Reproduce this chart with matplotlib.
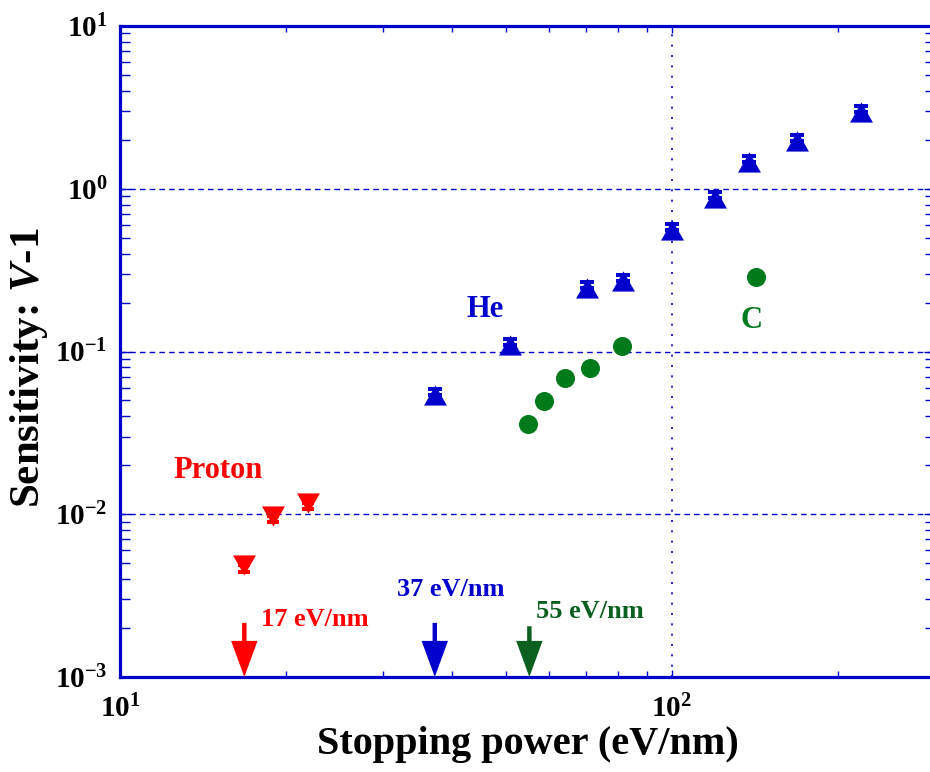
import numpy as np
import matplotlib
matplotlib.use('Agg')
import matplotlib.pyplot as plt
from matplotlib.path import Path
from matplotlib.ticker import LogLocator, NullFormatter

plt.rcParams['font.family'] = 'Liberation Serif'
plt.rcParams['font.weight'] = 'bold'
plt.rcParams['axes.labelweight'] = 'bold'
plt.rcParams['mathtext.fontset'] = 'custom'
plt.rcParams['mathtext.default'] = 'regular'
plt.rcParams['mathtext.it'] = 'Liberation Serif:italic:bold'
plt.rcParams['mathtext.rm'] = 'Liberation Serif:bold'
plt.rcParams['axes.unicode_minus'] = False

# ---------------- data ----------------
proton_x = [16.8, 18.9, 21.9]
proton_y = [0.00488, 0.0098, 0.0118]
proton_err = [0.00044, 0.0009, 0.0011]

he_x = [37.2, 51.0, 70.1, 81.7, 100.0, 120.0, 138.0, 169.0, 220.0]
he_y = [0.054, 0.109, 0.245, 0.27, 0.555, 0.875, 1.45, 1.97, 2.98]
he_err = [0.0048, 0.0097, 0.022, 0.024, 0.05, 0.078, 0.13, 0.175, 0.265]

c_x = [54.8, 58.7, 64.0, 71.0, 81.3, 141.9]
c_y = [0.0358, 0.0494, 0.069, 0.0793, 0.1086, 0.286]

arrow_x = [16.8, 37.2, 55.2]
arrow_top = [0.00215, 0.00215, 0.00205]
arrow_lab = ['17 eV/nm', '37 eV/nm', '55 eV/nm']

BLUE = '#0000cc'
RED = '#ff0000'
GREEN = '#007a1a'
DKGREEN = '#0b6020'

# wide triangle markers
tri_up = Path([(-1, -0.88), (1, -0.88), (0, 0.88), (-1, -0.88)],
              [Path.MOVETO, Path.LINETO, Path.LINETO, Path.CLOSEPOLY])
tri_dn = Path([(-1, 0.88), (1, 0.88), (0, -0.88), (-1, 0.88)],
              [Path.MOVETO, Path.LINETO, Path.LINETO, Path.CLOSEPOLY])

fig = plt.figure(figsize=(9.3, 7.72), dpi=100)
ax = fig.add_axes([120 / 930, 1 - 677 / 772, 815 / 930, 651 / 772])
ax.set_xscale('log')
ax.set_yscale('log')
ax.set_xlim(10, 300)
ax.set_ylim(1e-3, 10)

# grid
ax.yaxis.grid(True, which='major', color=BLUE, linestyle=(0, (4, 3)), linewidth=1.0)
ax.xaxis.grid(True, which='major', color=BLUE, linestyle=(0, (1.2, 5)), linewidth=1.2)

# data (caps drawn over the marker tips)
ax.plot(he_x, he_y, linestyle='none', marker=tri_up, markersize=16.5,
        color=BLUE, markeredgewidth=0, zorder=4)
ax.errorbar(he_x, he_y, yerr=[np.zeros(len(he_y)), he_err], fmt='none',
            ecolor=BLUE, elinewidth=2, capsize=4.7, capthick=2.9, zorder=5)

ax.plot(proton_x, proton_y, linestyle='none', marker=tri_dn, markersize=16.5,
        color=RED, markeredgewidth=0, zorder=4)
ax.errorbar(proton_x, proton_y, yerr=[proton_err, np.zeros(len(proton_y))], fmt='none',
            ecolor=RED, elinewidth=2, capsize=4.5, capthick=2.9, zorder=5)

ax.plot(c_x, c_y, linestyle='none', marker='o', markersize=13.7,
        color=GREEN, markeredgewidth=0, zorder=4)

# arrows marking thresholds
arrow_cols = [RED, BLUE, DKGREEN]
for xv, yt, col in zip(arrow_x, arrow_top, arrow_cols):
    ax.annotate('', xy=(xv, 1e-3), xytext=(xv, yt),
                arrowprops=dict(arrowstyle='simple,head_length=2.6,head_width=1.9,tail_width=0.32',
                                mutation_scale=10, lw=0, color=col,
                                shrinkA=0, shrinkB=0), annotation_clip=False)

# labels
ax.text(12.5, 0.0185, 'Proton', color=RED, fontsize=22, ha='left', va='center')
ax.text(42.4, 0.180, 'He', color=BLUE, fontsize=22, ha='left', va='center')
ax.text(133, 0.156, 'C', color=GREEN, fontsize=22, ha='left', va='center')
ax.text(18.0, 0.00224, arrow_lab[0], color=RED, fontsize=19, ha='left', va='center')
ax.text(31.8, 0.00346, arrow_lab[1], color=BLUE, fontsize=19, ha='left', va='center')
ax.text(56.7, 0.00252, arrow_lab[2], color=DKGREEN, fontsize=19, ha='left', va='center')

# spines and ticks
for s in ax.spines.values():
    s.set_color(BLUE)
    s.set_linewidth(2.3)
ax.xaxis.set_minor_locator(LogLocator(base=10, subs=np.arange(2, 10), numticks=20))
ax.yaxis.set_minor_locator(LogLocator(base=10, subs=np.arange(2, 10), numticks=20))
ax.xaxis.set_minor_formatter(NullFormatter())
ax.yaxis.set_minor_formatter(NullFormatter())
ax.tick_params(which='both', direction='in', color=BLUE, top=True, right=True,
               labelsize=21, labelcolor='black')
ax.tick_params(axis='x', which='major', length=5, width=1, pad=13)
ax.tick_params(axis='x', which='minor', length=4, width=1)
ax.tick_params(axis='y', which='major', length=8, width=1, pad=9)
ax.tick_params(axis='y', which='minor', length=7, width=1)

ax.set_xlabel('Stopping power (eV/nm)', fontsize=29, fontweight='bold', labelpad=2)
fig.text(29 / 930, 1 - 368 / 772, r'Sensitivity: $\mathit{V}$-$\mathit{1}$',
         rotation=90, fontsize=31, fontweight='bold', ha='center', va='center')

fig.savefig('out.png', dpi=100)
